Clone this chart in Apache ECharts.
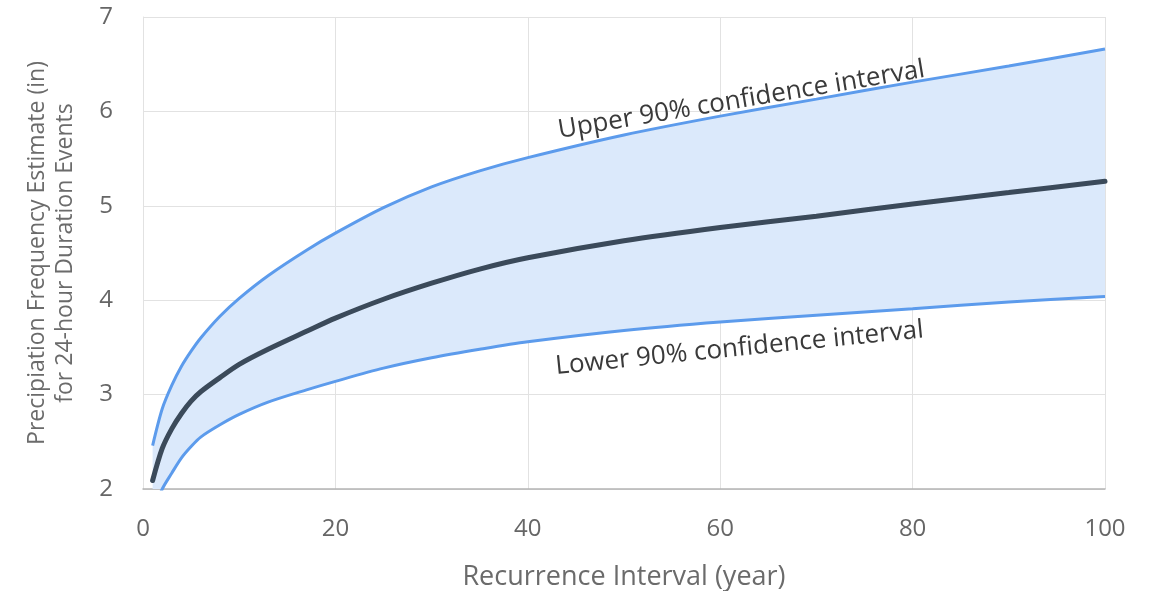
<!DOCTYPE html>
<html>
<head>
<meta charset="utf-8">
<script src="https://cdn.jsdelivr.net/npm/echarts@6/dist/echarts.min.js"></script>
<style>
html,body{margin:0;padding:0;background:#fff;}
#chart{width:1153px;height:591px;}
</style>
</head>
<body>
<div id="chart"></div>
<script>
// Recurrence interval (years)
const years = [1, 2, 3, 4, 5, 6, 8, 10, 13, 17, 20, 25, 30, 35, 40, 50, 60, 70, 80, 90, 100];
// Precipitation frequency estimate (in)
const median = [2.09, 2.43, 2.64, 2.80, 2.93, 3.03, 3.18, 3.32, 3.48, 3.67, 3.81, 4.01, 4.18, 4.33, 4.45, 4.63, 4.77, 4.89, 5.02, 5.14, 5.26];
const upper  = [2.46, 2.85, 3.10, 3.30, 3.46, 3.60, 3.83, 4.02, 4.26, 4.53, 4.71, 4.98, 5.20, 5.37, 5.51, 5.75, 5.95, 6.13, 6.31, 6.48, 6.66];
const lower  = [1.75, 2.00, 2.17, 2.33, 2.45, 2.55, 2.68, 2.79, 2.92, 3.05, 3.14, 3.28, 3.39, 3.48, 3.56, 3.68, 3.77, 3.84, 3.91, 3.98, 4.04];
const xTicks = [0, 20, 40, 60, 80, 100];
const yTicks = [2, 3, 4, 5, 6, 7];
const upperLabel = 'Upper 90% confidence interval';
const lowerLabel = 'Lower 90% confidence interval';
const upperLabelPos = [62.2, 6.12];
const lowerLabelPos = [62.0, 3.49];

const pair = (arr) => years.map((x, i) => [x, arr[i]]);

const FONT = 'Open Sans';
const BLUE = '#5c9bec';
const SMOOTH = 0.3;

const chart = echarts.init(document.getElementById('chart'), null, {renderer: 'canvas'});
chart.setOption({
  animation: false,
  backgroundColor: '#ffffff',
  grid: {left: 143, right: 48, top: 17, bottom: 102, containLabel: false, outerBoundsMode: 'none'},
  xAxis: {
    type: 'value', min: xTicks[0], max: xTicks[xTicks.length - 1], interval: 20,
    name: 'Recurrence Interval (year)', nameLocation: 'middle', nameGap: 75,
    nameTextStyle: {fontFamily: FONT, fontSize: 27, color: '#6b6b6b'},
    axisLine: {show: true, lineStyle: {color: '#b4b4b4', width: 1.5}},
    axisTick: {show: false},
    axisLabel: {fontFamily: FONT, fontSize: 24, color: '#666', margin: 28},
    splitLine: {show: true, lineStyle: {color: '#e2e2e2', width: 1}}
  },
  yAxis: {
    type: 'value', min: yTicks[0], max: yTicks[yTicks.length - 1], interval: 1,
    name: 'Precipiation Frequency Estimate (in)\nfor 24-hour Duration Events',
    nameLocation: 'middle', nameGap: 64,
    nameTextStyle: {fontFamily: FONT, fontSize: 23, color: '#6b6b6b', lineHeight: 28},
    axisLine: {show: true, lineStyle: {color: '#e2e2e2', width: 1}},
    axisTick: {show: false},
    axisLabel: {fontFamily: FONT, fontSize: 24, color: '#666', margin: 30},
    splitLine: {show: true, lineStyle: {color: '#e2e2e2', width: 1}}
  },
  series: [
    {
      type: 'custom', name: 'band', clip: true, silent: true, z: 1,
      data: [0],
      renderItem: function (params, api) {
        const top = years.map((x, i) => api.coord([x, upper[i]]));
        const bot = years.map((x, i) => api.coord([x, lower[i]])).reverse();
        // repeat the corner points so the vertical ends stay straight
        const pts = [top[0]].concat(top, [top[top.length - 1]], [bot[0]], bot, [bot[bot.length - 1]]);
        return {
          type: 'polygon',
          shape: {points: pts, smooth: SMOOTH},
          style: {fill: '#dbe9fb', stroke: null}
        };
      }
    },
    {
      type: 'line', name: 'lower', data: pair(lower),
      smooth: SMOOTH, showSymbol: false, symbol: 'none',
      lineStyle: {color: BLUE, width: 3}, z: 3,
      markPoint: {
        symbol: 'circle', symbolSize: 0,
        label: {show: true, formatter: lowerLabel, rotate: 5.7, fontFamily: FONT, fontSize: 26, color: '#3a3a3a', position: 'inside'},
        data: [{coord: lowerLabelPos}]
      }
    },
    {
      type: 'line', name: 'upper', data: pair(upper),
      smooth: SMOOTH, showSymbol: false, symbol: 'none',
      lineStyle: {color: BLUE, width: 3}, z: 3,
      markPoint: {
        symbol: 'circle', symbolSize: 0,
        label: {show: true, formatter: upperLabel, rotate: 9.5, fontFamily: FONT, fontSize: 26, color: '#3a3a3a', position: 'inside'},
        data: [{coord: upperLabelPos}]
      }
    },
    {
      type: 'line', name: 'median', data: pair(median),
      smooth: SMOOTH, showSymbol: false, symbol: 'none',
      lineStyle: {color: '#3b4a5a', width: 5, cap: 'round'}, z: 4
    }
  ]
});
</script>
</body>
</html>
